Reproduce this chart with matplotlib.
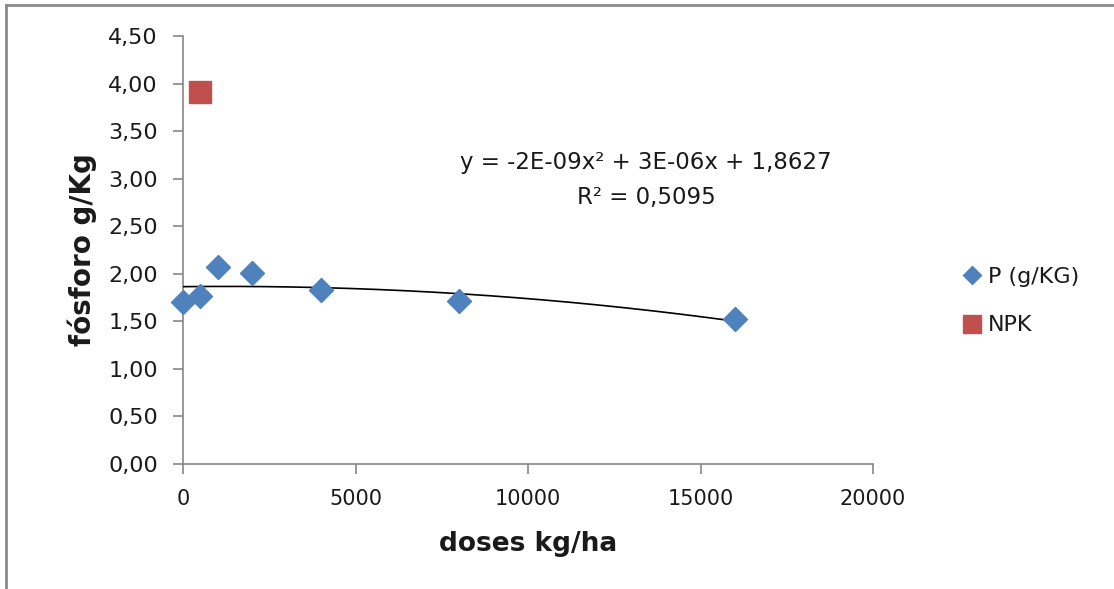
import numpy as np
import matplotlib
matplotlib.use("Agg")
import matplotlib.pyplot as plt
from matplotlib.lines import Line2D
from matplotlib.ticker import FuncFormatter, MultipleLocator

plt.rcParams['font.family'] = ['DejaVu Sans']

# dados
doses = [0, 500, 1000, 2000, 4000, 8000, 16000]
fosforo = [1.70, 1.77, 2.07, 2.01, 1.83, 1.71, 1.52]
npk_dose = [500]
npk_val = [3.91]
equacao = "y = -2E-09x² + 3E-06x + 1,8627\nR² = 0,5095"

azul = "#4F81BD"
vermelho = "#C0504D"
cinza = "#868686"
texto = "#1a1a1a"

fig = plt.figure(figsize=(11.14, 5.89), dpi=100)
ax = fig.add_axes([183 / 1114, 1 - 464 / 589, 690 / 1114, 428 / 589])

# linha de tendencia polinomial (ordem 2)
coef = np.polyfit(doses, fosforo, 2)
xs = np.linspace(min(doses), max(doses), 200)
ax.plot(xs, np.polyval(coef, xs), color="black", lw=1.2, zorder=3)

ax.plot(doses, fosforo, "D", color=azul, ms=12, mec=azul, label="P (g/KG)", zorder=4, clip_on=False)
ax.plot(npk_dose, npk_val, "s", color=vermelho, ms=16, mec=vermelho, label="NPK", zorder=4)

ax.set_xlim(0, 20000)
ax.set_ylim(0, 4.5)
ax.xaxis.set_major_locator(MultipleLocator(5000))
ax.yaxis.set_major_locator(MultipleLocator(0.5))
ax.yaxis.set_major_formatter(FuncFormatter(lambda v, p: ("%.2f" % v).replace(".", ",")))
ax.xaxis.set_major_formatter(FuncFormatter(lambda v, p: "%d" % v))

for s in ["top", "right"]:
    ax.spines[s].set_visible(False)
for s in ["left", "bottom"]:
    ax.spines[s].set_color(cinza)
    ax.spines[s].set_linewidth(1.2)
ax.tick_params(axis="both", direction="out", length=7, width=1.2, color=cinza,
               labelcolor=texto)
ax.tick_params(axis="y", pad=11, labelsize=16)
ax.tick_params(axis="x", pad=11, labelsize=15)

ax.set_xlabel("doses kg/ha", fontsize=19, fontweight="bold", labelpad=16, color=texto)
ax.set_ylabel("fósforo g/Kg", fontsize=20, fontweight="bold", labelpad=8, color=texto)

fig.text(646 / 1114, 1 - 180 / 589, equacao, ha="center", va="center",
         fontsize=16.5, linespacing=1.7, color=texto)

fig.legend(loc="center left", bbox_to_anchor=(945 / 1114, 1 - 301 / 589),
           frameon=False, fontsize=16, markerscale=0.8, handlelength=0.65,
           handletextpad=0.4, labelspacing=1.3, numpoints=1, labelcolor=texto)

# moldura do grafico (so topo e esquerda aparecem)
fig.add_artist(Line2D([6 / 1114, 1], [1 - 5 / 589, 1 - 5 / 589], color="#8a8a8a", lw=2))
fig.add_artist(Line2D([6 / 1114, 6 / 1114], [0, 1 - 5 / 589], color="#8a8a8a", lw=2))

fig.savefig("out.png", dpi=100)
